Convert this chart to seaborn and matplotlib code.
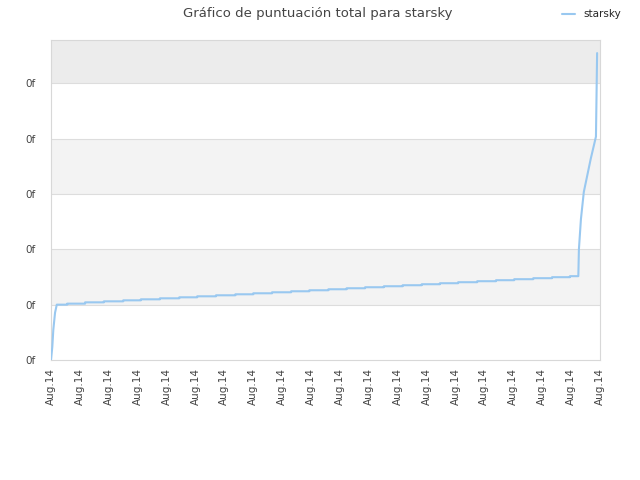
import pandas as pd
import matplotlib
matplotlib.use('Agg')
import matplotlib.pyplot as plt
import seaborn as sns

# Score history for starsky (x in tick units, y in score units)
# early climb
start_x = [0.00, 0.045, 0.08, 0.14]
start_y = [0, 13, 30, 47]
# long slow staircase: level i holds from step_edges[i] to step_edges[i+1]
step_edges = [0.20, 0.56, 1.18, 1.83, 2.50, 3.11, 3.77, 4.44, 5.06, 5.71,
              6.38, 7.00, 7.65, 8.31, 8.94, 9.60, 10.23, 10.87, 11.52, 12.17,
              12.83, 13.46, 14.09, 14.75, 15.40, 16.03, 16.69, 17.34, 17.96, 18.25]
step_levels = [55, 56, 57.3, 58.3, 59.3, 60.3, 61.3, 62.3, 63.3, 64.3,
               65.3, 66.3, 67.3, 68.3, 69.3, 70.3, 71.3, 72.3, 73.3, 74.3,
               75.3, 76.3, 77.3, 78.3, 79.3, 80.3, 81.3, 82.3, 83.3]
# final surge
end_x = [18.27, 18.34, 18.44, 18.68, 18.86, 18.88, 18.90]
end_y = [110, 140, 167, 200, 222, 263, 305]

x_ticks = list(range(20))
x_labels = ['Aug.14'] * 20
y_ticks = [0, 55, 110, 165, 220, 275]
y_labels = ['0f'] * 6
y_top = 318

xs, ys = list(start_x), list(start_y)
for i, lvl in enumerate(step_levels):
    xs += [step_edges[i], step_edges[i + 1]]
    ys += [lvl, lvl]
xs += end_x
ys += end_y
df = pd.DataFrame({'x': xs, 'score': ys, 'order': range(len(xs))})

sns.set_style('white')
plt.rcParams['font.family'] = ['DejaVu Sans']

fig = plt.figure(figsize=(6.4, 4.8), dpi=100)
ax = fig.add_axes([51 / 640, 1 - 360 / 480, 549 / 640, 320 / 480])

# alternating bands
band_colors = ['#ffffff', '#f3f3f3', '#ffffff', '#f3f3f3', '#ffffff', '#ececec']
edges = y_ticks + [y_top]
for i, c in enumerate(band_colors):
    ax.axhspan(edges[i], edges[i + 1], color=c, zorder=0, lw=0)
for yt in y_ticks[1:]:
    ax.axhline(yt, color='#dddddd', lw=0.8, zorder=1)

sns.lineplot(data=df, x='x', y='score', ax=ax, color='#99c8f0', lw=1.5,
             sort=False, estimator=None, label='starsky', legend=False, zorder=3)

ax.set_xlim(0, 19)
ax.set_ylim(0, y_top)
ax.set_xticks(x_ticks)
ax.set_xticklabels(x_labels, rotation=90, fontsize=7.5, color='#444444')
ax.set_yticks(y_ticks)
ax.set_yticklabels(y_labels, fontsize=7.5, color='#444444')
ax.tick_params(axis='both', length=0)
ax.tick_params(axis='y', pad=11)
ax.tick_params(axis='x', pad=6)
ax.set_xlabel('')
ax.set_ylabel('')
for s in ax.spines.values():
    s.set_color('#d8d8d8')
    s.set_linewidth(0.8)

fig.text(0.497, 0.972, 'Gráfico de puntuación total para starsky',
         ha='center', va='center', fontsize=9.5, color='#444444')

handles, labels = ax.get_legend_handles_labels()
fig.legend(handles, labels, loc='upper right', bbox_to_anchor=(0.985, 1.0),
           frameon=False, fontsize=7.5, handlelength=1.2, handletextpad=0.8)

fig.savefig('out.png', dpi=100)
